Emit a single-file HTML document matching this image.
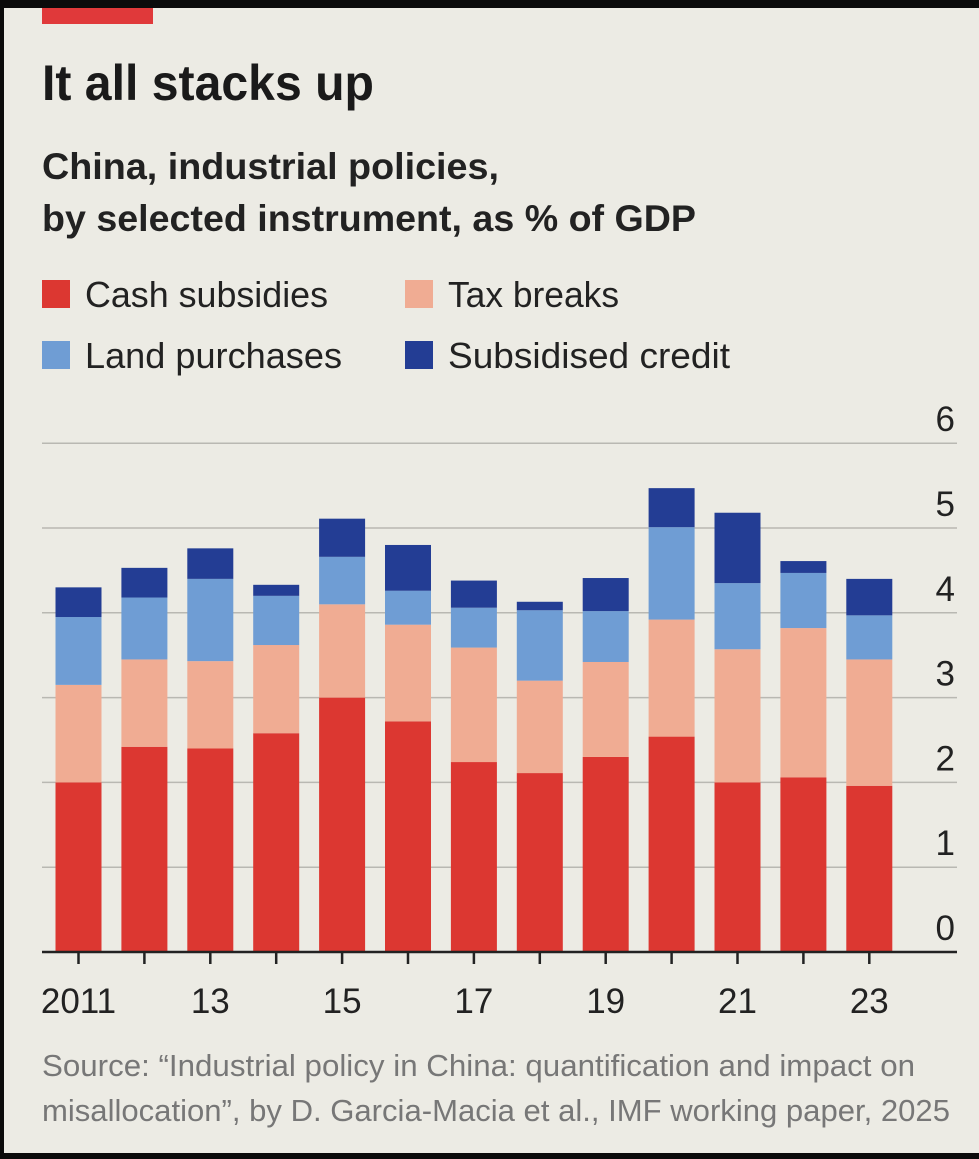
<!DOCTYPE html>
<html><head><meta charset="utf-8"><style>
body{margin:0;background:#000;}
svg{display:block;font-family:"Liberation Sans",sans-serif;}
</style></head><body>
<svg id="c" width="979" height="1159" viewBox="0 0 979 1159">
<rect x="0" y="0" width="979" height="1159" fill="#0b0b0b"/>
<rect x="4" y="8" width="975" height="1145" fill="#ecebe4"/>
<rect x="42" y="8" width="111" height="16" fill="#e0393a"/>
<text x="42" y="100" font-size="50" font-weight="bold" fill="#1a1a1a" textLength="332" lengthAdjust="spacingAndGlyphs">It all stacks up</text>
<text x="42" y="179" font-size="37" font-weight="bold" fill="#222" textLength="457" lengthAdjust="spacingAndGlyphs">China, industrial policies,</text>
<text x="42" y="231" font-size="37" font-weight="bold" fill="#222" textLength="654" lengthAdjust="spacingAndGlyphs">by selected instrument, as % of GDP</text>
<g id="legend"></g>
<g id="grid"></g>
<g id="bars"></g>
<g id="axis"></g>
<text x="42" y="1076" font-size="31" fill="#777" textLength="873" lengthAdjust="spacingAndGlyphs">Source: “Industrial policy in China: quantification and impact on</text>
<text x="42" y="1121" font-size="31" fill="#777" textLength="908" lengthAdjust="spacingAndGlyphs">misallocation”, by D. Garcia-Macia et al., IMF working paper, 2025</text>
</svg>
<script>
const years=[2011,2012,2013,2014,2015,2016,2017,2018,2019,2020,2021,2022,2023];
const xLabels=["2011","","13","","15","","17","","19","","21","","23"];
const cash=[2.0,2.42,2.4,2.58,3.0,2.72,2.24,2.11,2.3,2.54,2.0,2.06,1.96];
const tax=[1.15,1.03,1.03,1.04,1.1,1.14,1.35,1.09,1.12,1.38,1.57,1.76,1.49];
const land=[0.8,0.73,0.97,0.58,0.56,0.4,0.47,0.83,0.6,1.09,0.78,0.65,0.52];
const credit=[0.35,0.35,0.36,0.13,0.45,0.54,0.32,0.1,0.39,0.46,0.83,0.14,0.43];
const yTicks=[0,1,2,3,4,5,6];
const series=[["cash-subsidies",cash,"#dc3731"],["tax-breaks",tax,"#f0ac93"],["land-purchases",land,"#6f9dd4"],["subsidised-credit",credit,"#233d94"]];
const NS="http://www.w3.org/2000/svg";
const y=v=>952-v*84.8;
const xc=i=>78.5+i*65.9;
const bw=46;
function mk(t,a,p){const e=document.createElementNS(NS,t);for(const k in a)e.setAttribute(k,a[k]);p.appendChild(e);return e;}
const grid=document.getElementById('grid');
yTicks.forEach(v=>{
  if(v>0){const l=mk('line',{x1:42,x2:957,y1:y(v),y2:y(v),stroke:'#b9b8b2','stroke-width':1.5},grid);
  
  }
  const t=mk('text',{x:955,y:y(v)-12,'font-size':35,fill:'#222','text-anchor':'end'},grid);
  t.textContent=v;
  
  
});
const bars=document.getElementById('bars');
years.forEach((yr,i)=>{
  let base=0;
  series.forEach(([n,arr,c])=>{
    const top=base+arr[i];
    const r=mk('rect',{x:xc(i)-bw/2,y:y(top),width:bw,height:y(base)-y(top),fill:c},bars);
    
    
    base=top;
  });
});
const ax=document.getElementById('axis');
const al=mk('line',{x1:42,x2:957,y1:952,y2:952,stroke:'#222','stroke-width':2.5},ax);


years.forEach((yr,i)=>{
  const tk=mk('line',{x1:xc(i),x2:xc(i),y1:952,y2:964,stroke:'#222','stroke-width':2.5},ax);
  
  
  if(xLabels[i]){const t=mk('text',{x:xc(i),y:1013,'font-size':35,fill:'#222','text-anchor':'middle'},ax);
  t.textContent=xLabels[i];
  
  }
});
const leg=document.getElementById('legend');
const items=[["Cash subsidies","#dc3731",42,280,243],["Tax breaks","#f0ac93",405,280,171],["Land purchases","#6f9dd4",42,341,257],["Subsidised credit","#233d94",405,341,282]];
items.forEach(([lab,c,x0,y0,w])=>{
  const g=mk('g',{},leg);
  
  
  mk('rect',{x:x0,y:y0,width:28,height:28,fill:c},g);
  const t=mk('text',{x:x0+43,y:y0+27,'font-size':36,fill:'#222',textLength:w,lengthAdjust:'spacingAndGlyphs'},g);
  t.textContent=lab;
});
</script>
</body></html>
